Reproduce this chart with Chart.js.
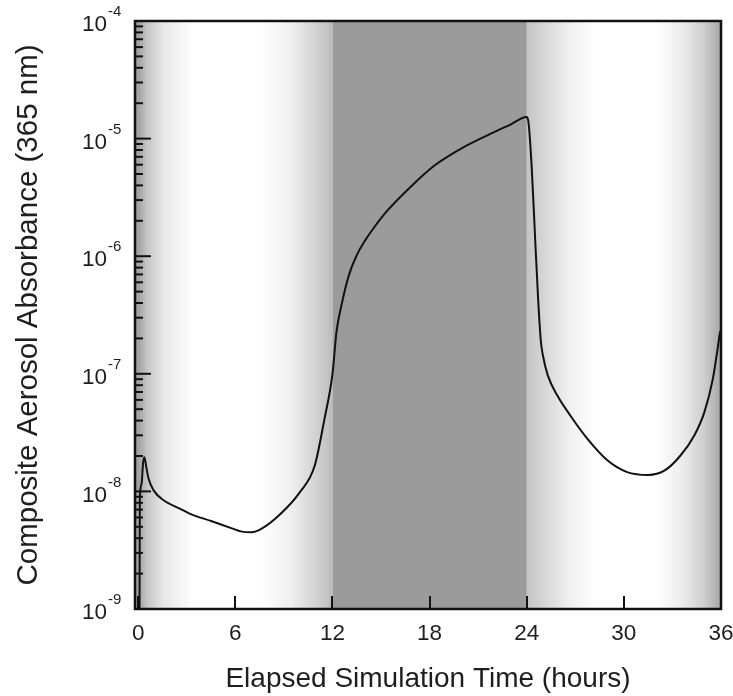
<!DOCTYPE html>
<html><head><meta charset="utf-8">
<script src="https://cdn.jsdelivr.net/npm/chart.js@4/dist/chart.umd.min.js"></script>
<style>html,body{margin:0;padding:0;background:#fff;overflow:hidden;}</style>
</head><body>
<canvas id="c" width="733" height="696"></canvas>
<script>
// ---- data ----
const timeHours = [0.08, 0.1, 0.2, 0.3, 0.38, 0.5, 0.64, 0.95, 1.57, 2.6, 3.2, 4.5, 5.7, 6.4, 7.0, 7.6, 8.8, 10.0, 10.9, 11.5, 12.0, 12.25, 12.55, 13.0, 13.5, 14.0, 14.6, 15.4, 16.9, 18.3, 20.0, 21.6, 23.05, 23.98, 24.1, 24.3, 24.5, 24.7, 24.87, 25.0, 25.3, 25.9, 26.7, 27.75, 29.0, 30.2, 31.5, 32.5, 33.5, 34.35, 34.97, 35.5, 35.95];
const absorbance = [1.0e-9, 8.5e-9, 1.15e-8, 1.75e-8, 1.95e-8, 1.6e-8, 1.28e-8, 1.02e-8, 8.4e-9, 7.1e-9, 6.45e-9, 5.6e-9, 4.9e-9, 4.55e-9, 4.5e-9, 4.8e-9, 6.45e-9, 9.9e-9, 1.65e-8, 4.1e-8, 1.0e-7, 2.3e-7, 3.8e-7, 6.8e-7, 1.02e-6, 1.35e-6, 1.78e-6, 2.45e-6, 3.98e-6, 5.9e-6, 8.3e-6, 1.07e-5, 1.33e-5, 1.53e-5, 1.4e-5, 5.9e-6, 1.6e-6, 4.4e-7, 1.9e-7, 1.43e-7, 9.7e-8, 6.5e-8, 4.4e-8, 2.8e-8, 1.83e-8, 1.46e-8, 1.38e-8, 1.5e-8, 2.02e-8, 2.99e-8, 4.7e-8, 9.1e-8, 2.3e-7];
const xTickValues = [0, 6, 12, 18, 24, 30, 36];
const yDecadeExponents = [-9, -8, -7, -6, -5, -4];
const darkPeriod = [12, 24];
const xAxisTitle = 'Elapsed Simulation Time (hours)';
const yAxisTitle = 'Composite Aerosol Absorbance (365 nm)';

const FONT = '"Liberation Sans", Arial, Helvetica, sans-serif';
const TXT = '#1e1e1e';

const shadingPlugin = {
  id: 'shading',
  beforeDatasetsDraw(chart) {
    const {ctx, chartArea: a, scales: {x}} = chart;
    const px = v => x.getPixelForValue(v);
    ctx.save();
    const stops1 = [[0,'#a2a2a2'],[0.6,'#c8c8c8'],[1.6,'#e8e8e8'],[3.4,'#ffffff'],[7.6,'#ffffff'],[9.5,'#eeeeee'],[11,'#d2d2d2'],[12,'#bcbcbc']];
    const stops2 = [[24,'#c4c4c4'],[25.2,'#d8d8d8'],[26.6,'#efefef'],[28.2,'#ffffff'],[32.0,'#ffffff'],[33.6,'#ececec'],[35,'#cdcdcd'],[36,'#a6a6a6']];
    function band(stops, x0, x1) {
      const g = ctx.createLinearGradient(px(x0), 0, px(x1), 0);
      stops.forEach(([t,c]) => g.addColorStop(Math.min(1,Math.max(0,(t - x0) / (x1 - x0))), c));
      ctx.fillStyle = g;
      const l = x0 <= 0 ? a.left : px(x0);
      const r = x1 >= 36 ? a.right : px(x1);
      ctx.fillRect(l, a.top, r - l, a.bottom - a.top);
    }
    band(stops1, 0, darkPeriod[0]);
    band(stops2, darkPeriod[1], 36);
    ctx.fillStyle = '#9b9b9b';
    ctx.fillRect(px(darkPeriod[0]), a.top, px(darkPeriod[1]) - px(darkPeriod[0]), a.bottom - a.top);
    ctx.restore();
  }
};

const framePlugin = {
  id: 'frame',
  afterDatasetsDraw(chart) {
    const {ctx, chartArea: a, scales: {x, y}} = chart;
    ctx.save();
    ctx.strokeStyle = '#111';
    ctx.lineWidth = 2;
    xTickValues.forEach(v => {
      const p = Math.round(x.getPixelForValue(v));
      ctx.beginPath(); ctx.moveTo(p, a.bottom); ctx.lineTo(p, a.bottom - 13); ctx.stroke();
    });
    yDecadeExponents.forEach((e, i) => {
      const dec = Math.pow(10, e);
      const p = y.getPixelForValue(dec);
      ctx.beginPath(); ctx.moveTo(a.left, p); ctx.lineTo(a.left + 16, p); ctx.stroke();
      if (i < yDecadeExponents.length - 1) {
        for (let m = 2; m <= 9; m++) {
          const q = y.getPixelForValue(m * dec);
          ctx.beginPath(); ctx.moveTo(a.left, q); ctx.lineTo(a.left + 8, q); ctx.stroke();
        }
      }
      ctx.fillStyle = TXT;
      ctx.font = '22.5px ' + FONT;
      ctx.textAlign = 'right'; ctx.textBaseline = 'middle';
      ctx.fillText('10', a.left - 28, p + 4);
      ctx.font = '15px ' + FONT;
      ctx.textAlign = 'left';
      ctx.fillText(String(e), a.left - 27, p - 9);
    });
    ctx.lineWidth = 2.5;
    ctx.strokeRect(a.left, a.top, a.right - a.left, a.bottom - a.top);
    ctx.restore();
  }
};

new Chart(document.getElementById('c'), {
  type: 'line',
  data: {
    datasets: [{
      data: timeHours.map((t, i) => ({x: t, y: absorbance[i]})),
      borderColor: '#111',
      borderWidth: 2,
      pointRadius: 0,
      fill: false,
      cubicInterpolationMode: 'monotone'
    }]
  },
  options: {
    responsive: false,
    animation: false,
    devicePixelRatio: 1,
    layout: {padding: {top: 21, right: 12, bottom: 0, left: 0}},
    plugins: {legend: {display: false}, tooltip: {enabled: false}},
    scales: {
      x: {
        type: 'linear', min: -0.2, max: 36,
        afterBuildTicks: s => { s.ticks = xTickValues.map(v => ({value: v})); },
        ticks: {font: {family: FONT, size: 22.5}, color: TXT, padding: 11, autoSkip: false, maxRotation: 0, callback: v => String(v)},
        grid: {display: false, drawTicks: false},
        border: {display: false},
        title: {display: true, text: xAxisTitle, color: TXT, font: {family: FONT, size: 28}, padding: {top: 0, bottom: 0}},
        afterFit: s => { s.height = 87; s.paddingRight = 0; s.paddingLeft = 0; }
      },
      y: {
        type: 'logarithmic', min: 1e-9, max: 1e-4,
        ticks: {display: false},
        grid: {display: false},
        border: {display: false},
        title: {display: true, text: yAxisTitle, color: TXT, font: {family: FONT, size: 29.5, lineHeight: 1}, padding: {top: 14, bottom: 0}},
        afterFit: s => { s.width = 135; }
      }
    }
  },
  plugins: [shadingPlugin, framePlugin]
});
</script>
</body></html>
